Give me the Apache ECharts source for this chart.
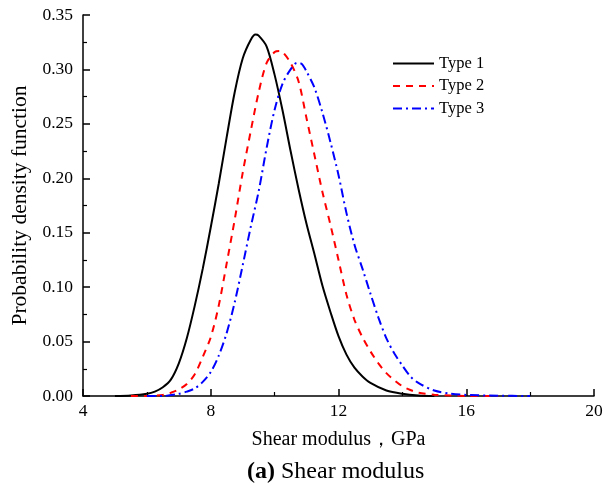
<!DOCTYPE html>
<html>
<head>
<meta charset="utf-8">
<script src="https://cdn.jsdelivr.net/npm/echarts@6/dist/echarts.min.js"></script>
<style>
  html, body { margin: 0; padding: 0; background: #fff; }
  #chart { width: 612px; height: 494px; }
</style>
</head>
<body>
<div id="chart"></div>
<script>
// values
var t1X = [5.0, 5.5, 6.0, 6.25, 6.5, 6.75, 7.0, 7.25, 7.5, 7.75, 8.0, 8.25, 8.5, 8.75, 9.0, 9.25, 9.4, 9.5, 9.75, 10.0, 10.25, 10.5, 10.75, 11.0, 11.25, 11.5, 11.75, 12.0, 12.25, 12.5, 12.75, 13.0, 13.5, 14.0, 14.5, 15.0];
var t1Y = [0, 0.0005, 0.002, 0.004, 0.008, 0.015, 0.030, 0.053, 0.083, 0.117, 0.155, 0.195, 0.238, 0.279, 0.310, 0.327, 0.332, 0.331, 0.321, 0.295, 0.262, 0.225, 0.190, 0.158, 0.130, 0.101, 0.077, 0.055, 0.038, 0.026, 0.018, 0.012, 0.005, 0.002, 0.0005, 0];

var t2X = [5.5, 6.0, 6.5, 6.75, 7.0, 7.25, 7.5, 7.75, 8.0, 8.25, 8.5, 8.75, 9.0, 9.25, 9.5, 9.75, 10.0, 10.15, 10.25, 10.5, 10.75, 11.0, 11.25, 11.5, 11.75, 12.0, 12.25, 12.5, 12.75, 13.0, 13.25, 13.5, 13.75, 14.0, 14.25, 14.5, 15.0, 15.5, 16.0, 17.0];
var t2Y = [0, 0, 0.001, 0.003, 0.006, 0.011, 0.020, 0.036, 0.054, 0.083, 0.122, 0.162, 0.205, 0.243, 0.279, 0.306, 0.316, 0.317, 0.316, 0.306, 0.289, 0.255, 0.221, 0.187, 0.157, 0.125, 0.093, 0.070, 0.054, 0.041, 0.030, 0.021, 0.0145, 0.009, 0.0055, 0.003, 0.0012, 0.0004, 0, 0];

var t3X = [6.0, 6.5, 7.0, 7.25, 7.5, 7.75, 8.0, 8.25, 8.5, 8.75, 9.0, 9.25, 9.5, 9.75, 10.0, 10.25, 10.5, 10.7, 10.85, 11.0, 11.25, 11.5, 11.75, 12.0, 12.25, 12.5, 12.75, 13.0, 13.25, 13.5, 13.75, 14.0, 14.25, 14.5, 15.0, 15.5, 16.0, 17.0, 18.0];
var t3Y = [0, 0, 0.002, 0.004, 0.007, 0.013, 0.022, 0.037, 0.058, 0.086, 0.120, 0.155, 0.188, 0.228, 0.263, 0.287, 0.300, 0.306, 0.305, 0.298, 0.283, 0.260, 0.233, 0.203, 0.168, 0.139, 0.117, 0.094, 0.072, 0.053, 0.039, 0.028, 0.018, 0.012, 0.005, 0.0022, 0.001, 0.0003, 0];

var seriesNames = ['Type 1', 'Type 2', 'Type 3'];
var xTicks = [4, 8, 12, 16, 20];
var yTicks = [0, 0.05, 0.10, 0.15, 0.20, 0.25, 0.30, 0.35];

function pairs(xs, ys) {
  var out = [];
  for (var i = 0; i < xs.length; i++) out.push([xs[i], ys[i]]);
  return out;
}

var font = '"Liberation Serif", "Times New Roman", serif';
var myChart = echarts.init(document.getElementById('chart'));

var option = {
  backgroundColor: '#fff',
  animation: false,
  textStyle: { fontFamily: font },
  grid: { left: 83, right: 18, top: 15, bottom: 98 },
  legend: {
    orient: 'vertical',
    left: 392,
    top: 55,
    padding: 0,
    itemWidth: 41,
    itemHeight: 14,
    itemGap: 5.5,
    itemStyle: { opacity: 0 },
    textStyle: { fontFamily: font, fontSize: 16.5, color: '#000' },
    data: seriesNames
  },
  xAxis: {
    type: 'value',
    min: xTicks[0],
    max: xTicks[xTicks.length - 1],
    interval: 4,
    name: 'Shear modulus，GPa',
    nameLocation: 'middle',
    nameGap: 34,
    nameTextStyle: { fontFamily: font, fontSize: 20, color: '#000' },
    axisLine: { lineStyle: { color: '#000', width: 1.5 } },
    axisTick: { inside: false, length: -7, lineStyle: { color: '#000', width: 1.5 } },
    minorTick: { show: true, splitNumber: 2, length: -4, lineStyle: { color: '#000', width: 1.2 } },
    axisLabel: { fontFamily: font, fontSize: 17.5, color: '#000', margin: 6, showMaxLabel: true },
    splitLine: { show: false }
  },
  yAxis: {
    type: 'value',
    min: yTicks[0],
    max: yTicks[yTicks.length - 1],
    interval: 0.05,
    name: 'Probability density function',
    nameLocation: 'middle',
    nameGap: 51,
    nameTextStyle: { fontFamily: font, fontSize: 21.5, color: '#000' },
    axisLine: { show: true, lineStyle: { color: '#000', width: 1.5 } },
    axisTick: { show: true, inside: false, length: -7, lineStyle: { color: '#000', width: 1.5 } },
    minorTick: { show: true, splitNumber: 2, length: -4, lineStyle: { color: '#000', width: 1.2 } },
    axisLabel: {
      fontFamily: font, fontSize: 17.5, color: '#000', margin: 10,
      formatter: function (v) { return v.toFixed(2); }
    },
    splitLine: { show: false }
  },
  graphic: [{
    type: 'text',
    left: 247,
    top: 460,
    style: {
      text: '{b|(a)} Shear modulus',
      font: '24px ' + font,
      fill: '#000',
      rich: {
        b: { fontWeight: 'bold', fontSize: 24, fontFamily: font }
      }
    }
  }],
  series: [
    {
      name: seriesNames[0],
      type: 'line',
      data: pairs(t1X, t1Y),
      symbol: 'none',
      smooth: 0.3,
      lineStyle: { color: '#000', width: 2 },
      itemStyle: { color: '#000' }
    },
    {
      name: seriesNames[1],
      type: 'line',
      data: pairs(t2X, t2Y),
      symbol: 'none',
      smooth: 0.3,
      lineStyle: { color: '#ff0000', width: 2, type: [7, 6] },
      itemStyle: { color: '#ff0000' }
    },
    {
      name: seriesNames[2],
      type: 'line',
      data: pairs(t3X, t3Y),
      symbol: 'none',
      smooth: 0.3,
      lineStyle: { color: '#0000ff', width: 2, type: [9, 4, 2, 4] },
      itemStyle: { color: '#0000ff' }
    }
  ]
};

myChart.setOption(option);
window.addEventListener('resize', function () {
  myChart.resize();
});
</script>
</body>
</html>
